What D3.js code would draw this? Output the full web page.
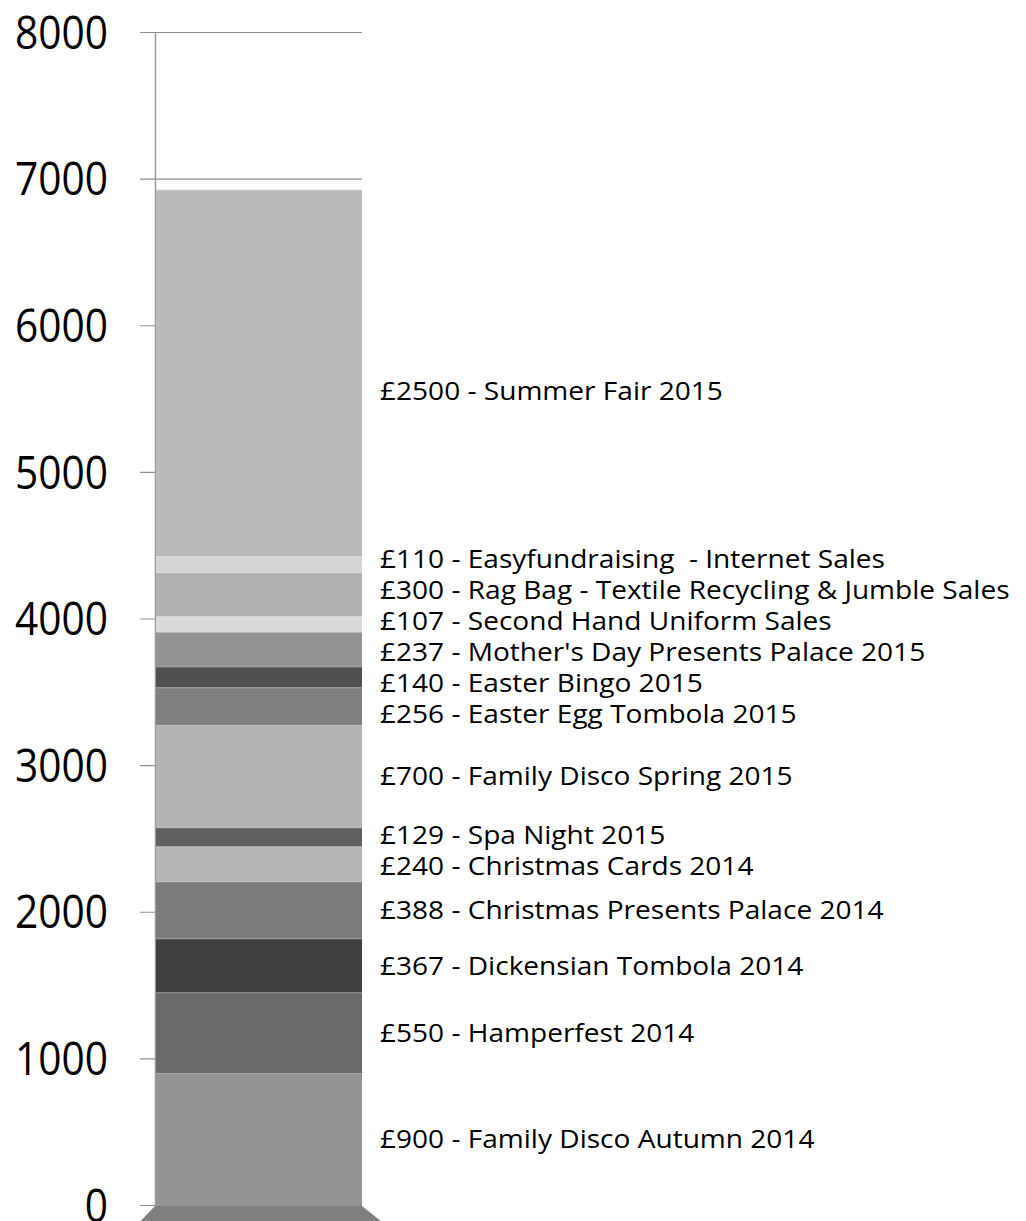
<!DOCTYPE html>
<html>
<head>
<meta charset="utf-8">
<script src="https://cdn.jsdelivr.net/npm/d3@7"></script>
<style>
  body { margin: 0; background: #fff; }
  text { font-family: "Open Sans", sans-serif; fill: #000; }
</style>
</head>
<body>
<script>
// fundraising events, bottom of the stack first
const events = [
  "Family Disco Autumn 2014",
  "Hamperfest 2014",
  "Dickensian Tombola 2014",
  "Christmas Presents Palace 2014",
  "Christmas Cards 2014",
  "Spa Night 2015",
  "Family Disco Spring 2015",
  "Easter Egg Tombola 2015",
  "Easter Bingo 2015",
  "Mother's Day Presents Palace 2015",
  "Second Hand Uniform Sales",
  "Rag Bag - Textile Recycling & Jumble Sales",
  "Easyfundraising  - Internet Sales",
  "Summer Fair 2015"
];
const amounts = [900, 550, 367, 388, 240, 129, 700, 256, 140, 237, 107, 300, 110, 2500];
const shades = ["#939393", "#6a6a6a", "#404040", "#7b7b7b", "#b5b5b5", "#606060", "#b4b4b4",
                "#7f7f7f", "#505050", "#939393", "#dadada", "#b1b1b1", "#d5d5d5", "#bababa"];
const yTicks = [0, 1000, 2000, 3000, 4000, 5000, 6000, 7000, 8000];

const w = 1026, h = 1221;
const svg = d3.select("body").append("svg")
  .attr("width", w)
  .attr("height", h);

const yScale = d3.scaleLinear().domain([0, 8000]).range([1205, 32]);
const xScale = d3.scaleBand().domain(["total"]).range([156, 362]).paddingInner(0).paddingOuter(0);
const x0 = xScale("total"), x1 = x0 + xScale.bandwidth();

// stacked values
let cum = 0;
const stack = amounts.map((v, i) => {
  const s = { i, lo: cum, hi: cum + v, v, name: events[i], fill: shades[i] };
  cum += v;
  return s;
});

// axis: gridlines + ticks + labels, drawn behind the bar
const yAxis = d3.axisLeft(yScale)
  .tickValues(yTicks)
  .tickFormat(d3.format("d"))
  .tickSize(x1 - 140)
  .tickPadding(32);

const ax = svg.append("g")
  .attr("transform", `translate(${x1}, 0)`)
  .call(yAxis);
ax.select(".domain").remove();
ax.selectAll(".tick line").attr("stroke", "#8f8f8f").attr("stroke-width", 1.2);
const tickText = ax.selectAll(".tick text")
  .style("font-size", "45px")
  .attr("dy", "0.36em");
// squeeze numbers horizontally to the narrower face of the original
let wide = 0;
tickText.each(function () { wide = Math.max(wide, this.getComputedTextLength()); });
const tsx = 93 / wide;
tickText.each(function () {
  const t = d3.select(this);
  const tx = +t.attr("x");
  t.attr("x", tx / tsx).attr("transform", `scale(${tsx},1)`);
});

// floor of the column
const y0 = yScale(0);
svg.append("polygon")
  .attr("points", [[x0 - 1, y0 + 1], [x1, y0 + 1], [x1 + 30, y0 + 25], [x0 - 24, y0 + 25]].join(" "))
  .attr("fill", "#7f7f7f");

// vertical axis line
svg.append("line")
  .attr("x1", 155.5).attr("x2", 155.5)
  .attr("y1", yScale(8000)).attr("y2", y0)
  .attr("stroke", "#9a9a9a")
  .attr("stroke-width", 1.5);

// bar segments
svg.selectAll("rect.seg")
  .data(stack)
  .enter()
  .append("rect")
  .attr("class", "seg")
  .attr("x", x0)
  .attr("width", x1 - x0)
  .attr("y", d => yScale(d.hi))
  .attr("height", d => yScale(d.lo) - yScale(d.hi))
  .attr("fill", d => d.fill);

// thin light edge between segments
svg.selectAll("line.sep")
  .data(stack)
  .enter()
  .append("line")
  .attr("x1", x0).attr("x2", x1)
  .attr("y1", d => yScale(d.hi) + 0.5)
  .attr("y2", d => yScale(d.hi) + 0.5)
  .attr("stroke", "#fff")
  .attr("stroke-opacity", 0.18);

// label positions: segment middles, spread apart where they crowd
const gap = 31;
const ly = stack.map(d => yScale((d.lo + d.hi) / 2));
for (let k = 0; k < 300; k++) {
  for (let i = 0; i < ly.length - 1; i++) {
    const over = gap - (ly[i] - ly[i + 1]);
    if (over > 0) { ly[i] += over / 2; ly[i + 1] -= over / 2; }
  }
}
ly[ly.length - 1] += 18; // the big top label sits a little low in the original

const lab = svg.selectAll("g.lab")
  .data(stack)
  .enter()
  .append("g")
  .attr("class", "lab");
const labText = lab.append("text")
  .attr("x", 0)
  .attr("dy", "0.36em")
  .style("font-size", "25.5px")
  .style("white-space", "pre")
  .attr("xml:space", "preserve")
  .text(d => `£${d.v} - ${d.name}`);
let longest = 0;
labText.each(function () { longest = Math.max(longest, this.getComputedTextLength()); });
const lsx = 630 / longest;
lab.attr("transform", (d, i) => `translate(380, ${ly[i]}) scale(${lsx},1)`);
</script>
</body>
</html>
